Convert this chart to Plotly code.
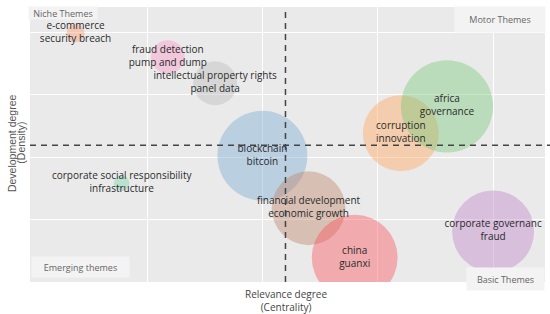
import plotly.graph_objects as go

# ---- data ----
themes = [
    "e-commerce<br>security breach",
    "fraud detection<br>pump and dump",
    "intellectual property rights<br>panel data",
    "blockchain<br>bitcoin",
    "corruption<br>innovation",
    "africa<br>governance",
    "corporate social responsibility<br>infrastructure",
    "financial development<br>economic growth",
    "china<br>guanxi",
    "corporate governanc<br>fraud",
]
centrality = [-0.62, 0.18, 0.59, 1.00, 2.20, 2.60, -0.22, 1.40, 1.80, 3.00]
density = [3.98, 3.60, 3.18, 2.02, 2.38, 2.81, 1.58, 1.18, 0.39, 0.81]
documents = [4, 14, 24, 101, 72, 106, 3, 68, 92, 84]
centrality_mean = 1.20
density_mean = 2.19

colors = [
    "rgba(250,150,110,0.6)",
    "rgba(250,150,200,0.6)",
    "rgba(185,185,185,0.6)",
    "rgba(120,170,210,0.6)",
    "rgba(255,165,90,0.6)",
    "rgba(120,200,120,0.6)",
    "rgba(120,210,170,0.6)",
    "rgba(190,130,105,0.6)",
    "rgba(250,80,90,0.6)",
    "rgba(190,130,200,0.6)",
]

fig = go.Figure()
fig.add_trace(go.Scatter(
    x=centrality, y=density, mode="markers+text",
    text=themes, textposition="middle center",
    textfont=dict(family="Open Sans", size=10, color="#2a2a2a"),
    marker=dict(size=documents, sizemode="area", sizeref=0.025,
                color=colors, line=dict(width=0)),
    hoverinfo="text", showlegend=False,
))

dash_line = dict(color="#444444", width=1.5, dash="6px,5px")
fig.add_shape(type="line", xref="x", yref="paper", x0=centrality_mean, x1=centrality_mean,
              y0=0, y1=1, line=dash_line)
fig.add_shape(type="line", xref="paper", yref="y", x0=0, x1=1.01,
              y0=density_mean, y1=density_mean, line=dash_line)

quad_font = dict(family="Open Sans", size=9, color="#666666")
quads = [
    ("Niche Themes", 0.064, 0.98, 68, 12),
    ("Motor Themes", 0.913, 0.955, 90, 25),
    ("Emerging themes", 0.099, 0.0545, 97, 20),
    ("Basic Themes", 0.924, 0.011, 77, 22),
]
for txt, xp, yp, w, h in quads:
    fig.add_annotation(text=txt, xref="paper", yref="paper", x=xp, y=yp,
                       xanchor="center", yanchor="middle", showarrow=False,
                       width=w, height=h, bgcolor="#f3f3f3", borderpad=0,
                       font=quad_font)

# axis titles
fig.add_annotation(text="Relevance degree<br>(Centrality)", xref="paper", yref="paper",
                   x=0.497, y=-0.012, xanchor="center", yanchor="top", showarrow=False,
                   font=dict(family="Open Sans", size=10, color="#444444"))
ytitle_font = dict(family="Liberation Sans", size=10.5, color="#555555")
fig.add_annotation(text="Development degree", xref="paper", yref="paper",
                   x=-0.035, y=0.505, xanchor="center", yanchor="middle", showarrow=False,
                   textangle=-90, font=ytitle_font)
fig.add_annotation(text="(Density)", xref="paper", yref="paper",
                   x=-0.0165, y=0.505, xanchor="center", yanchor="middle", showarrow=False,
                   textangle=-90, font=ytitle_font)

fig.update_layout(
    width=550, height=314,
    margin=dict(l=30, r=5, t=7, b=32, autoexpand=False),
    paper_bgcolor="white", plot_bgcolor="#eaeaea",
    xaxis=dict(range=[-1.015, 3.45], tickvals=[0, 1, 2, 3], showticklabels=False,
               ticks="", zeroline=False, showgrid=True, gridcolor="white", gridwidth=1,
               automargin=False),
    yaxis=dict(range=[0, 4.4], tickvals=[1, 2, 3, 4], showticklabels=False,
               ticks="", zeroline=False, showgrid=True, gridcolor="white", gridwidth=1,
               automargin=False),
)

fig.write_html("out.html", config={"displayModeBar": False},
               post_script="document.body.style.margin='0';")
